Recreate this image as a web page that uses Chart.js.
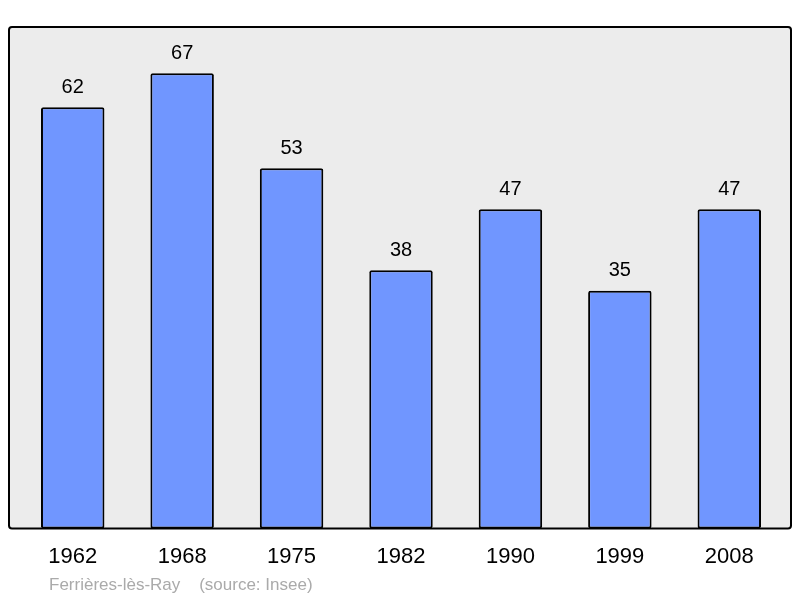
<!DOCTYPE html>
<html>
<head>
<meta charset="utf-8">
<script src="https://cdn.jsdelivr.net/npm/chart.js@4"></script>
<style>
  html, body { margin: 0; padding: 0; background: #fff; }
  #wrap { position: relative; width: 800px; height: 598px; }
  #source { position: absolute; left: 49px; top: 575px; font: 17px "Liberation Sans", Arial, sans-serif; color: #aaaaaa; white-space: pre; }
</style>
</head>
<body>
<div id="wrap">
  <canvas id="chart" width="800" height="598"></canvas>
  <div id="source">Ferrières-lès-Ray    (source: Insee)</div>
</div>
<script>
const years = ['1962', '1968', '1975', '1982', '1990', '1999', '2008'];
const population = [62, 67, 53, 38, 47, 35, 47];

// grey panel with rounded black frame behind the bars
const framePlugin = {
  id: 'frame',
  beforeDatasetsDraw(chart) {
    const { ctx, chartArea: a } = chart;
    const x = a.left - 9, y = a.top, w = a.right + 7 - x, h = a.bottom - y;
    ctx.save();
    ctx.beginPath();
    ctx.roundRect(x, y, w, h, 3);
    ctx.fillStyle = '#ececec';
    ctx.fill();
    ctx.restore();
  },
  afterDatasetsDraw(chart) {
    const { ctx, chartArea: a } = chart;
    const x = a.left - 9, y = a.top, w = a.right + 7 - x, h = a.bottom - y;
    ctx.save();
    ctx.beginPath();
    ctx.roundRect(x, y, w, h, 3);
    ctx.lineWidth = 2;
    ctx.strokeStyle = '#000';
    ctx.stroke();

    // value labels above each bar
    ctx.fillStyle = '#000';
    ctx.font = '20px "Liberation Sans", Arial, sans-serif';
    ctx.textAlign = 'center';
    ctx.textBaseline = 'bottom';
    chart.getDatasetMeta(0).data.forEach((bar, i) => {
      ctx.fillText(String(population[i]), bar.x, bar.y - 10);
    });
    ctx.restore();
  }
};

new Chart(document.getElementById('chart'), {
  type: 'bar',
  data: {
    labels: years,
    datasets: [{
      data: population,
      backgroundColor: '#7096ff',
      borderColor: '#000',
      borderWidth: 2,
      borderRadius: 2,
      borderSkipped: false,
      barPercentage: 0.58,
      categoryPercentage: 1
    }]
  },
  options: {
    responsive: false,
    animation: false,
    layout: { padding: { left: 18, right: 16, top: 27, bottom: 13 } },
    plugins: { legend: { display: false }, tooltip: { enabled: false } },
    scales: {
      y: { display: false, min: 0, max: 73.8 },
      x: {
        grid: { display: false, drawTicks: false },
        border: { display: false },
        ticks: { color: '#000', padding: 15, font: { size: 22, family: '"Liberation Sans", Arial, sans-serif' } }
      }
    }
  },
  plugins: [framePlugin]
});
</script>
</body>
</html>
